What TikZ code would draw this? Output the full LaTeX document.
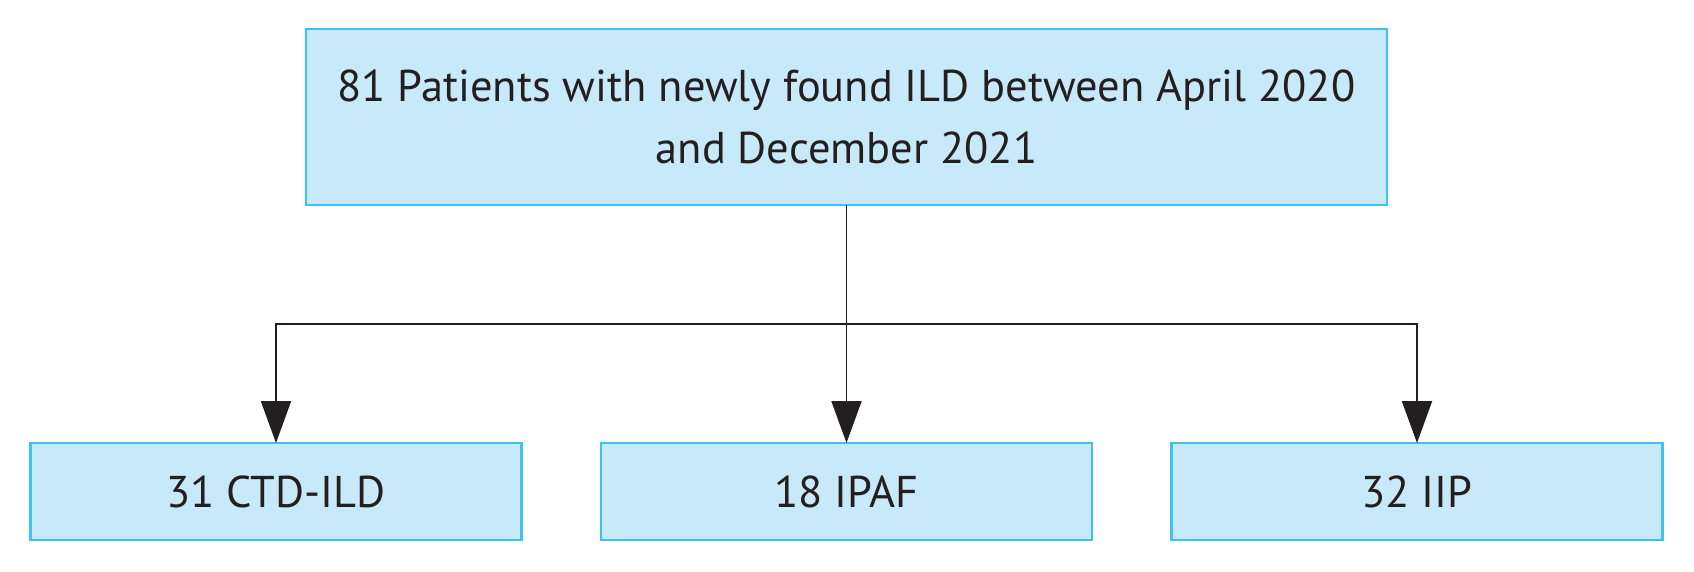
\documentclass[tikz,border=0pt]{standalone}
\usepackage{fontspec}
\setmainfont{PT Sans}
\usetikzlibrary{positioning}
\usetikzlibrary{arrows.meta}

\definecolor{boxfill}{HTML}{C8E9FA}
\definecolor{boxline}{HTML}{3EC3EE}
\definecolor{ink}{HTML}{231F20}

\tikzset{
  flowbox/.style={rectangle,draw=boxline,fill=boxfill,line width=1.6pt,inner sep=0pt,outer sep=0pt,text=ink,align=center,font=\fontsize{25.3}{35.3}\selectfont},
  link/.style={draw=ink,line width=1.1pt},
  arr/.style={link,-{Triangle[width=0.6cm,length=0.84cm]}}
}

\begin{document}
\begin{tikzpicture}
\useasboundingbox (0,0) rectangle (33.88,11.42);
\node[flowbox,minimum width=21.62cm,minimum height=3.52cm] (top) at (16.93,9.08) {81 Patients with newly found ILD between April 2020\\and December 2021};
\node[flowbox,minimum width=9.82cm,minimum height=1.94cm] (ipaf) at (16.93,1.59) {18 IPAF};
\node[flowbox,minimum width=9.82cm,minimum height=1.94cm,left=1.59cm of ipaf] (ctd) {31 CTD-ILD};
\node[flowbox,minimum width=9.82cm,minimum height=1.94cm,right=1.59cm of ipaf] (iip) {32 IIP};
\coordinate (bus) at (16.93,4.94);

\draw[link] (top.south) -- (bus);
\foreach \n in {ctd,ipaf,iip}
  \draw[arr] (bus) -| (\n.north);
\end{tikzpicture}
\end{document}
